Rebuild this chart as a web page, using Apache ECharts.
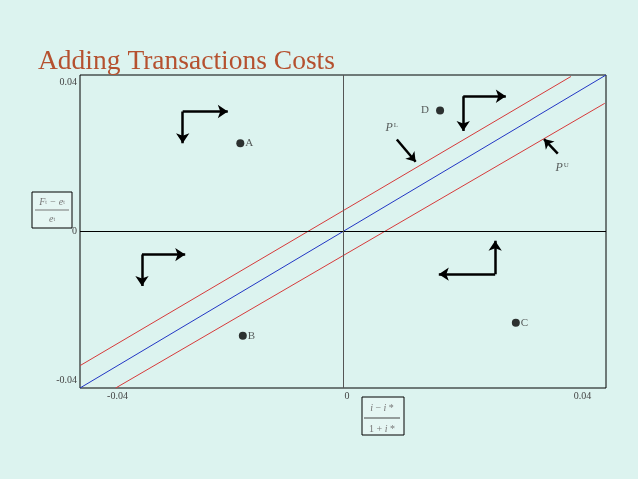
<!DOCTYPE html>
<html><head><meta charset="utf-8">
<script src="https://cdn.jsdelivr.net/npm/echarts@6/dist/echarts.min.js"></script>
<style>html,body{margin:0;padding:0;background:#dcf3ef;}#c{width:638px;height:479px;}</style>
</head><body><div id="c"></div>
<script>
// axis range and tick labels
const axisMin = -0.042, axisMax = 0.042;
const tickValues = [-0.04, 0, 0.04];
// diagonal lines [x,y]
const parityLine = [[-0.042, -0.042], [0.042, 0.042]];
const lowerBoundPL = [[-0.042, -0.036], [0.0364, 0.0416]];
const upperBoundPU = [[-0.0363, -0.042], [0.0418, 0.0344]];
// labelled points
const pointNames = ['A', 'B', 'C', 'D'];
const pointX = [-0.0164, -0.016, 0.0276, 0.0155];
const pointY = [0.0237, -0.028, -0.0245, 0.0325];
// L-shaped arrows: corner and two tips
const arrowCorners = [[-0.0256, 0.0322], [-0.0321, -0.0062], [0.0243, -0.01145], [0.0192, 0.0363]];
const arrowTipsV = [[-0.0256, 0.0237], [-0.0321, -0.0146], [0.0243, -0.0025], [0.0192, 0.027]];
const arrowTipsH = [[-0.0184, 0.0322], [-0.0252, -0.0062], [0.0153, -0.01145], [0.026, 0.0363]];
// pointer arrows to P^L and P^U
const pointerArrows = [[[0.0086, 0.0247], [0.0116, 0.0187]], [[0.0343, 0.0209], [0.0321, 0.0248]]];
const curveLabels = ['L', 'U'];
const curveLabelPos = [[0.0078, 0.0277], [0.035, 0.017]];

const chart = echarts.init(document.getElementById('c'));
const serif = 'Liberation Serif';
const arrowSegs = [];
for (let i = 0; i < arrowCorners.length; i++) {
  arrowSegs.push({coords: [arrowCorners[i], arrowTipsV[i]]});
  arrowSegs.push({coords: [arrowCorners[i], arrowTipsH[i]]});
}
const tickRich = {
  l: {padding: [0, 0, 0, 50], color: '#444', fontFamily: serif, fontSize: 10},
  z: {padding: [0, 0, 0, 8], color: '#444', fontFamily: serif, fontSize: 10},
  r: {padding: [0, 22, 0, 0], color: '#444', fontFamily: serif, fontSize: 10}
};
chart.setOption({
  backgroundColor: '#dcf3ef',
  animation: false,
  title: {
    text: 'Adding Transactions Costs', left: 33, top: 43,
    textStyle: {fontFamily: serif, fontSize: 27.5, fontWeight: 'normal', color: '#b5512f'}
  },
  grid: {left: 80, right: 32, top: 75, bottom: 91, show: true, borderColor: '#000', borderWidth: 1, backgroundColor: 'transparent'},
  xAxis: {
    type: 'value', min: axisMin, max: axisMax,
    splitLine: {show: false}, axisLine: {show: false}, axisTick: {show: false},
    axisLabel: {
      customValues: tickValues, margin: 3, fontFamily: serif, fontSize: 10, color: '#444',
      formatter: v => v < 0 ? '{l|-0.04}' : (v > 0 ? '{r|0.04}' : '{z|0}'),
      rich: tickRich
    }
  },
  yAxis: {
    type: 'value', min: axisMin, max: axisMax,
    splitLine: {show: false}, axisLine: {show: false}, axisTick: {show: false},
    axisLabel: {
      customValues: tickValues, margin: 3, fontFamily: serif, fontSize: 10, color: '#444',
      formatter: v => v === 0 ? '0' : String(v)
    }
  },
  series: [
    {
      type: 'line', data: parityLine, symbol: 'none', lineStyle: {color: '#2236c4', width: 1}, z: 3,
      markLine: {
        silent: true, symbol: 'none', label: {show: false},
        data: [
          {yAxis: 0, lineStyle: {color: '#000', width: 1, type: 'solid'}},
          {xAxis: 0, lineStyle: {color: '#555', width: 1, type: 'solid'}}
        ]
      }
    },
    {type: 'line', data: lowerBoundPL, symbol: 'none', lineStyle: {color: '#d63a3a', width: 1}, z: 3},
    {type: 'line', data: upperBoundPU, symbol: 'none', lineStyle: {color: '#d63a3a', width: 1}, z: 3},
    {
      type: 'scatter', symbolSize: 8, itemStyle: {color: '#000'}, z: 5,
      data: pointNames.map((n, i) => ({name: n, value: [pointX[i], pointY[i]],
        label: {position: n === 'D' ? 'left' : 'right', distance: n === 'D' ? 7 : 1}})),
      label: {show: true, formatter: p => p.name, fontFamily: serif, fontSize: 11, color: '#333'}
    },
    {
      type: 'lines', coordinateSystem: 'cartesian2d', polyline: false,
      symbol: ['none', 'arrow'], symbolSize: [0, 10],
      lineStyle: {color: '#000', width: 2.5, opacity: 1}, z: 6,
      data: arrowSegs
    },
    {
      type: 'lines', coordinateSystem: 'cartesian2d', polyline: false,
      symbol: ['none', 'arrow'], symbolSize: [0, 9],
      lineStyle: {color: '#000', width: 2.5, opacity: 1}, z: 6,
      data: pointerArrows.map(c => ({coords: c}))
    },
    {
      type: 'scatter', symbolSize: 0, z: 6,
      data: curveLabels.map((n, i) => ({name: n, value: curveLabelPos[i]})),
      label: {
        show: true, position: 'inside', formatter: p => '{p|P}{s|' + p.name + '}',
        rich: {
          p: {fontFamily: serif, fontStyle: 'italic', fontSize: 12, color: '#333'},
          s: {fontFamily: serif, fontSize: 7, color: '#333', verticalAlign: 'top', padding: [0, 0, 6, 1]}
        }
      }
    }
  ],
  graphic: [
    {type: 'rect', shape: {x: 32, y: 192, width: 40, height: 36}, style: {fill: 'rgba(255,255,255,0.25)', stroke: '#000', lineWidth: 1}},
    {type: 'line', shape: {x1: 35, y1: 210, x2: 69, y2: 210}, style: {stroke: '#777', lineWidth: 1}},
    {type: 'text', x: 52, y: 202, style: {
      text: '{v|F}{s|t}{v| − e}{s|t}', align: 'center', verticalAlign: 'middle',
      rich: {v: {fontFamily: serif, fontStyle: 'italic', fontSize: 10, fill: '#777'}, s: {fontFamily: serif, fontSize: 6, fill: '#777'}}}},
    {type: 'text', x: 52, y: 219, style: {
      text: '{v|e}{s|t}', align: 'center', verticalAlign: 'middle',
      rich: {v: {fontFamily: serif, fontStyle: 'italic', fontSize: 10, fill: '#777'}, s: {fontFamily: serif, fontSize: 6, fill: '#777'}}}},
    {type: 'rect', shape: {x: 362, y: 397, width: 42, height: 38}, style: {fill: 'rgba(255,255,255,0.25)', stroke: '#000', lineWidth: 1}},
    {type: 'line', shape: {x1: 364, y1: 418, x2: 400, y2: 418}, style: {stroke: '#444', lineWidth: 1}},
    {type: 'text', x: 382, y: 408, style: {
      text: '{v|i} − {v|i} *', align: 'center', verticalAlign: 'middle', fontFamily: serif, fontSize: 10, fill: '#777',
      rich: {v: {fontFamily: serif, fontStyle: 'italic', fontSize: 10, fill: '#777'}}}},
    {type: 'text', x: 382, y: 429, style: {
      text: '1 + {v|i} *', align: 'center', verticalAlign: 'middle', fontFamily: serif, fontSize: 10, fill: '#777',
      rich: {v: {fontFamily: serif, fontStyle: 'italic', fontSize: 10, fill: '#777'}}}}
  ]
});
</script></body></html>
